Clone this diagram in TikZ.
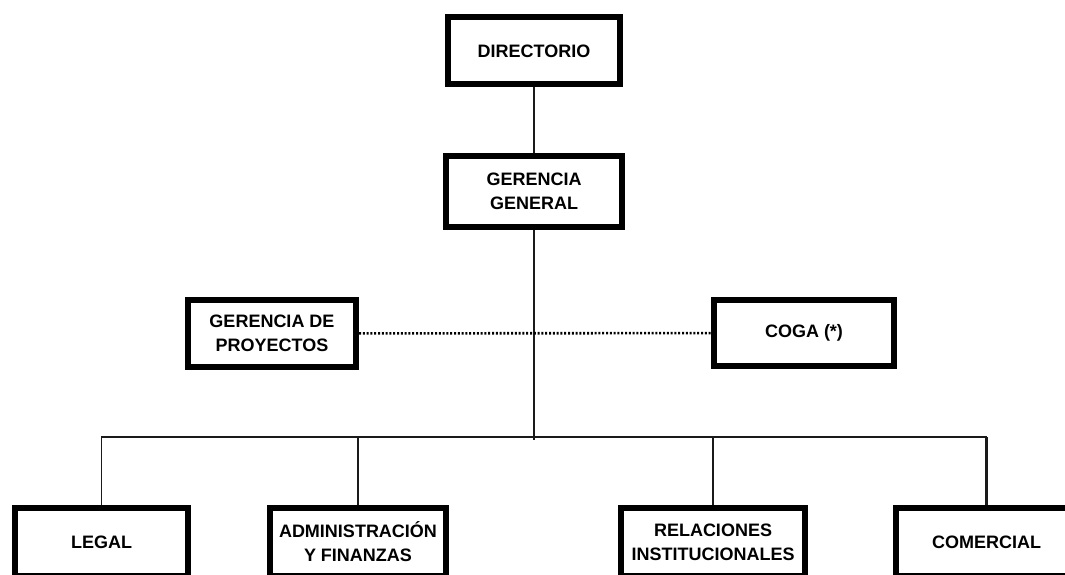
\documentclass[tikz,border=0pt]{standalone}
\usepackage{fontspec}
\setmainfont{Liberation Sans}
\usepackage{xcolor}
\definecolor{linegray}{HTML}{1a1a1a}
\usepackage{tikz}
\tikzset{
    unit/.style={draw=black, line width=6pt, fill=white, align=center, inner sep=0pt,
        font=\fontsize{18}{24}\selectfont\bfseries},
    link/.style={draw=linegray, line width=1.3pt}
}

\begin{document}
\begin{tikzpicture}[x=1pt, y=-1pt]
            \useasboundingbox (0, 0) rectangle (1065, 575);
            \clip (0, 0) rectangle (1065, 575);

            \node (dir) at (534, 51) [unit, minimum width=172, minimum height=67] {DIRECTORIO};
            \node (gg) at (534, 191.5) [unit, minimum width=176, minimum height=71] {GERENCIA\\GENERAL};

            \node (gp) at (272, 333.5) [unit, minimum width=168, minimum height=67] {GERENCIA DE\\PROYECTOS};
            \node (coga) at (804, 333) [unit, minimum width=180, minimum height=66] {COGA (*)};

            \node (legal) at (101.5, 542) [unit, minimum width=173, minimum height=68] {LEGAL};
            \node (adm) at (358, 542) [unit, minimum width=176, minimum height=68] {ADMINISTRACIÓN\\Y FINANZAS};
            \node (rel) at (713, 542) [unit, minimum width=184, minimum height=68] {RELACIONES\\INSTITUCIONALES};
            \node (com) at (986.5, 542) [unit, minimum width=181, minimum height=68] {COMERCIAL};

            \coordinate (bus) at (534, 437);
            \coordinate (busend) at (534, 440);

            \draw [link] (dir) -- (gg);
            \draw [link] (gg) -- (busend);
            \draw [link, draw=black, line width=2.6pt, dash pattern=on 2pt off 1.8pt] (gp) -- (coga);

            \draw [link] (legal.north) |- (bus) -| (com.north);
            \draw [link] (adm.north) -- (adm.north |- bus);
            \draw [link] (rel.north) -- (rel.north |- bus);
            \draw [link, line width=2.5pt] (com.north) -- (com.north |- bus);
        \end{tikzpicture}
\end{document}
